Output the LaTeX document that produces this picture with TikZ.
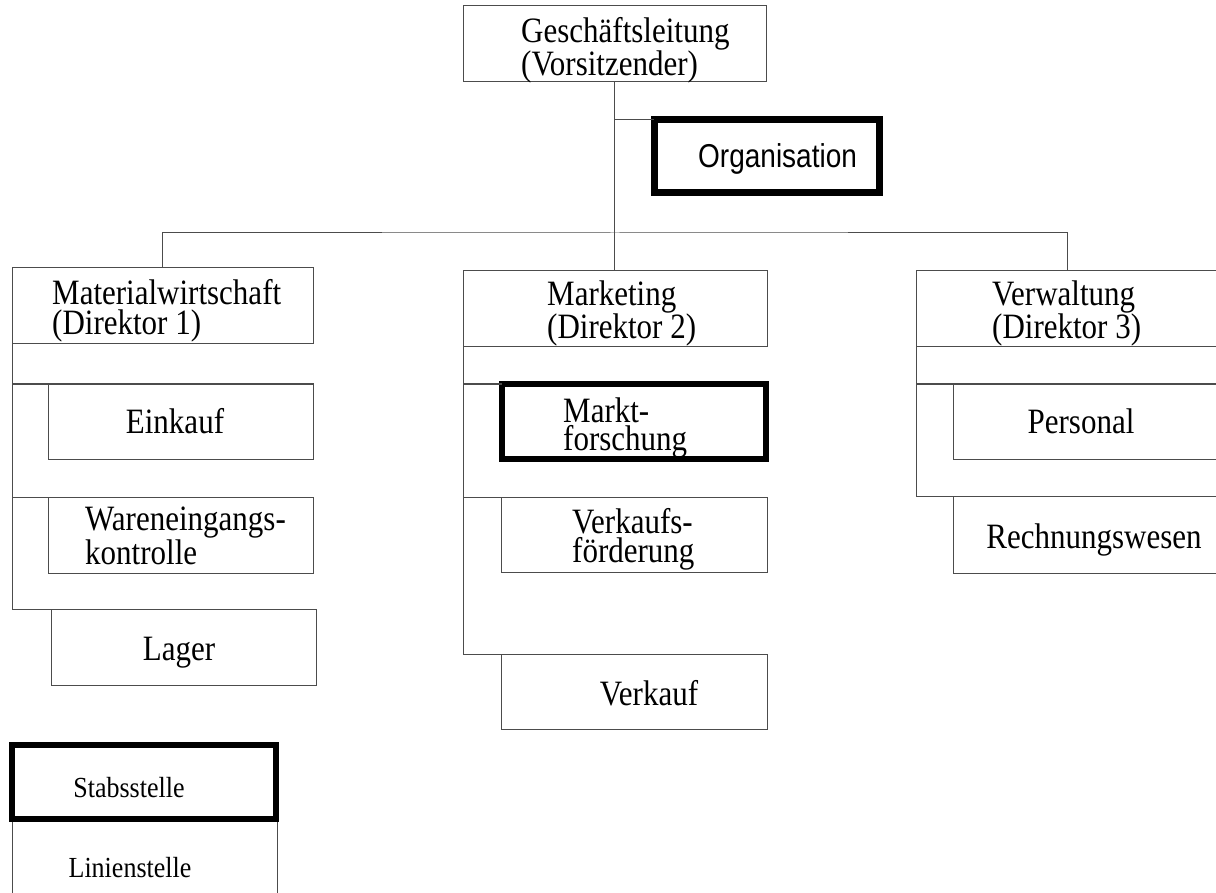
\documentclass[tikz,border=0pt]{standalone}
\usepackage{fontspec}
\setmainfont{Liberation Serif}
\newfontfamily\orgsans{Liberation Sans}
\usetikzlibrary{positioning}

\begin{document}
\begin{tikzpicture}[x=1pt, y=-1pt]%[very thick]
    \tikzset{
        box/.style={draw=black!70, line width=1pt, rectangle, inner sep=0pt, outer sep=0pt},
        staff/.style={draw=black, line width=6pt, rectangle, inner sep=0pt, outer sep=0pt},
        txt/.style={inner sep=0pt, yscale=1.15, transform shape, align=left, font=\fontsize{31}{29}\selectfont},
        small/.style={inner sep=0pt, yscale=1.12, transform shape, font=\fontsize{26}{28}\selectfont},
        link/.style={draw=black!70, line width=1pt}
    }

    \useasboundingbox (0,0) rectangle (1216,893);
    \clip (0,0) rectangle (1216,893);

    % boxes
    \node [box, minimum width=303pt, minimum height=76pt] (gl) at (614.5,44) {};
    \node [staff, line width=7pt, minimum width=225pt, minimum height=73pt] (org) at (766.5,156.5) {};

    \node [box, minimum width=301pt, minimum height=76pt] (mw) at (162.5,306) {};
    \node [box, minimum width=304pt, minimum height=76pt] (mk) at (615,309) {};
    \node [box, minimum width=302pt, minimum height=76pt] (vw) at (1067,309) {};

    \node [box, minimum width=265pt, minimum height=75pt] (ek) at (180.5,421.5) {};
    \node [box, minimum width=265pt, minimum height=76pt] (wk) at (180.5,535) {};
    \node [box, minimum width=265pt, minimum height=76pt] (lg) at (183.5,647) {};

    \node [staff, minimum width=264pt, minimum height=75pt] (mf) at (634,421.5) {};
    \node [box, minimum width=266pt, minimum height=75pt] (vf) at (634,534.5) {};
    \node [box, minimum width=266pt, minimum height=75pt] (vk) at (634,691.5) {};

    \node [box, minimum width=269pt, minimum height=75pt] (ps) at (1087.5,421.5) {};
    \node [box, minimum width=269pt, minimum height=77pt] (rw) at (1087.5,534.5) {};

    \node [box, minimum width=265pt, minimum height=101pt] (ls) at (144.5,869.5) {};
    \node [staff, minimum width=264pt, minimum height=74pt] (sb) at (144,782) {};

    % lines
    \coordinate (bus) at (615,233);
    \draw [link] (gl.south) -- (gl.south |- mk.north);
    \draw [link] (gl.south |- org.north) -- (org.north west);
    \draw [link] (mw.north) |- (bus) -| (vw.north);

    \draw [link] (mw.south west) |- (lg.north west);
    \draw [link] (mw.south west |- ek.north) -- (ek.north west);
    \draw [link] (mw.south west |- wk.north) -- (wk.north west);

    \draw [link] (mk.south west) |- (vk.north west);
    \draw [link] (mk.south west |- mf.north) -- (mf.north west);
    \draw [link] (mk.south west |- vf.north) -- (vf.north west);

    \draw [link] (vw.south west) |- (rw.north west);
    \draw [link] (vw.south west |- ps.north) -- (ps.north west);

    % texts
    \node [txt, font=\fontsize{31}{24.3}\selectfont, anchor=base west] (gl1) at (521,76) {Geschäftsleitung\\(Vorsitzender)};
    \node [inner sep=0pt, yscale=1.18, transform shape, font=\orgsans\fontsize{28}{30}\selectfont, anchor=base west] (org1) at (698,168) {Organisation};

    \node [txt, font=\fontsize{31}{26.1}\selectfont, anchor=base west] (mw1) at (52,335) {Materialwirtschaft\\(Direktor 1)};
    \node [txt, font=\fontsize{31}{25.2}\selectfont, anchor=base west] (mk1) at (547,339) {Marketing\\(Direktor 2)};
    \node [txt, font=\fontsize{31}{25.2}\selectfont, anchor=base west] (vw1) at (992,339) {Verwaltung\\(Direktor 3)};

    \node [txt, anchor=base] (ek1) at (175,433) {Einkauf};
    \node [txt, font=\fontsize{31}{27}\selectfont, anchor=base west] (wk1) at (85,564) {Wareneingangs-\\kontrolle};
    \node [txt, anchor=base] (lg1) at (179,660) {Lager};

    \node [txt, font=\fontsize{31}{23.5}\selectfont, anchor=base west] (mf1) at (563,450) {Markt-\\forschung};
    \node [txt, font=\fontsize{31}{25.2}\selectfont, anchor=base west] (vf1) at (572,562) {Verkaufs-\\förderung};
    \node [txt, anchor=base] (vk1) at (649,705) {Verkauf};

    \node [txt, anchor=base] (ps1) at (1081,433) {Personal};
    \node [txt, anchor=base] (rw1) at (1094,548) {Rechnungswesen};

    \node [small, anchor=base] (sb1) at (129,797) {Stabsstelle};
    \node [small, anchor=base] (ls1) at (130,877) {Linienstelle};

\end{tikzpicture}
\end{document}
